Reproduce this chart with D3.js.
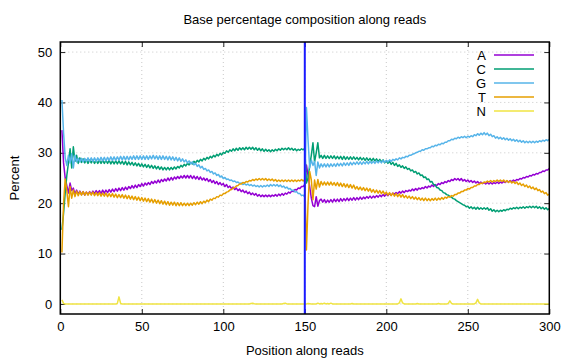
<!DOCTYPE html>
<html>
<head>
<meta charset="utf-8">
<script src="https://cdn.jsdelivr.net/npm/d3@7"></script>
<style>
  body { margin: 0; background: #fff; }
  svg { display: block; font-family: "Liberation Sans", Arial, sans-serif; }
</style>
</head>
<body>
<svg id="chart" width="576" height="360"></svg>
<script>
const bases = ['A', 'C', 'G', 'T', 'N'];
const colors = ['#9400d3', '#009e73', '#56b4e9', '#e69f00', '#f0e442'];
const xTicks = [0, 50, 100, 150, 200, 250, 300];
const yTicks = [0, 10, 20, 30, 40, 50];
const readBoundary = 150;

// percent per position 1..300 (read 1 = 1..150, read 2 = 151..300)
const pctA = [
  34.5, 28, 25, 23.5, 22, 24, 22.5, 23, 21.8, 22.6,
  21.8, 22.4, 21.7, 22.3, 21.6, 22.2, 21.7, 22.3, 21.8, 22.4,
  21.9, 22.5, 22.0, 22.5, 21.9, 22.6, 22.0, 22.6, 22.1, 22.7,
  22.2, 22.8, 22.3, 22.9, 22.4, 23.0, 22.5, 23.1, 22.6, 23.2,
  22.7, 23.3, 22.9, 23.5, 23.0, 23.6, 23.1, 23.7, 23.3, 23.9,
  23.4, 24.0, 23.6, 24.1, 23.7, 24.3, 23.9, 24.4, 24.0, 24.6,
  24.1, 24.7, 24.3, 24.8, 24.4, 25.0, 24.5, 25.1, 24.6, 25.2,
  24.8, 25.3, 24.9, 25.4, 25.0, 25.5, 25.0, 25.5, 25.0, 25.5,
  24.9, 25.4, 24.8, 25.3, 24.7, 25.2, 24.6, 25.0, 24.5, 24.9,
  24.3, 24.7, 24.1, 24.5, 23.9, 24.3, 23.7, 24.1, 23.6, 23.9,
  23.3, 23.7, 23.1, 23.4, 22.9, 23.2, 22.7, 23.0, 22.5, 22.8,
  22.3, 22.6, 22.1, 22.4, 21.9, 22.2, 21.7, 22.0, 21.6, 21.9,
  21.4, 21.7, 21.3, 21.6, 21.3, 21.6, 21.3, 21.6, 21.3, 21.6,
  21.4, 21.7, 21.4, 21.8, 21.5, 21.9, 21.6, 22.0, 21.8, 22.2,
  22.0, 22.4, 22.3, 22.7, 22.6, 23.0, 22.9, 23.3, 23.3, 23.7,
  27.6, 25.5, 23.3, 21.0, 19.5, 19.3, 21.3, 19.4, 20.5, 20.8,
  20.2, 20.7, 20.1, 20.6, 20.2, 20.7, 20.2, 20.8, 20.3, 20.8,
  20.3, 20.9, 20.4, 20.9, 20.5, 21.0, 20.5, 21.0, 20.6, 21.1,
  20.6, 21.1, 20.7, 21.2, 20.8, 21.2, 20.9, 21.3, 21.0, 21.4,
  21.0, 21.4, 21.1, 21.5, 21.2, 21.6, 21.3, 21.7, 21.4, 21.8,
  21.5, 21.9, 21.6, 22.0, 21.8, 22.1, 21.9, 22.3, 22.0, 22.4,
  22.1, 22.5, 22.3, 22.6, 22.4, 22.8, 22.5, 22.9, 22.6, 23.0,
  22.8, 23.1, 22.9, 23.3, 23.0, 23.4, 23.2, 23.6, 23.3, 23.7,
  23.5, 23.9, 23.7, 24.1, 23.9, 24.3, 24.1, 24.5, 24.3, 24.7,
  24.5, 24.9, 24.6, 24.9, 24.5, 24.9, 24.4, 24.7, 24.3, 24.6,
  24.2, 24.5, 24.1, 24.4, 24.0, 24.3, 23.9, 24.2, 23.9, 24.1,
  23.8, 24.1, 23.8, 24.1, 23.8, 24.1, 23.9, 24.2, 23.9, 24.2,
  24.0, 24.3, 24.1, 24.4, 24.2, 24.5, 24.3, 24.6, 24.4, 24.7,
  24.6, 24.9, 24.8, 25.1, 25.0, 25.3, 25.2, 25.5, 25.4, 25.7,
  25.6, 25.9, 25.8, 26.1, 26.1, 26.4, 26.3, 26.6, 26.6, 26.9
];

const pctC = [
  14.7, 18, 22, 25.5, 28, 30.8, 27, 31.2, 28.3, 29.5,
  27.9, 29.0, 28.1, 28.8, 28.0, 28.6, 27.9, 28.6, 28.0, 28.6,
  27.9, 28.5, 27.9, 28.5, 27.9, 28.5, 27.9, 28.5, 27.9, 28.5,
  27.8, 28.4, 27.8, 28.4, 27.8, 28.4, 27.8, 28.3, 27.7, 28.3,
  27.6, 28.2, 27.6, 28.1, 27.5, 28.0, 27.4, 27.9, 27.3, 27.8,
  27.2, 27.7, 27.1, 27.6, 27.0, 27.5, 26.9, 27.4, 26.8, 27.3,
  26.7, 27.2, 26.6, 27.1, 26.6, 27.1, 26.6, 27.1, 26.7, 27.2,
  26.8, 27.3, 27.0, 27.5, 27.2, 27.7, 27.4, 27.9, 27.6, 28.1,
  27.8, 28.3, 28.0, 28.5, 28.2, 28.7, 28.4, 28.9, 28.6, 29.1,
  28.8, 29.3, 29.0, 29.5, 29.2, 29.7, 29.4, 29.9, 29.6, 30.1,
  29.9, 30.4, 30.1, 30.6, 30.3, 30.8, 30.4, 30.9, 30.5, 31.0,
  30.6, 31.0, 30.6, 31.1, 30.7, 31.1, 30.7, 31.1, 30.6, 31.0,
  30.5, 30.9, 30.4, 30.8, 30.3, 30.7, 30.3, 30.6, 30.2, 30.6,
  30.3, 30.7, 30.4, 30.8, 30.5, 30.9, 30.6, 30.9, 30.6, 31.0,
  30.6, 30.9, 30.5, 30.8, 30.4, 30.7, 30.5, 30.8, 30.6, 30.9,
  24.0, 25.0, 27.5, 29.5, 32.0, 28.2, 30.0, 32.0, 29.0, 29.5,
  28.9, 29.5, 28.9, 29.4, 28.9, 29.4, 28.9, 29.4, 28.8, 29.3,
  28.8, 29.3, 28.7, 29.3, 28.7, 29.2, 28.7, 29.2, 28.7, 29.2,
  28.7, 29.1, 28.6, 29.1, 28.6, 29.0, 28.5, 29.0, 28.5, 28.9,
  28.4, 28.9, 28.4, 28.8, 28.3, 28.7, 28.2, 28.6, 28.0, 28.4,
  27.9, 28.3, 27.7, 28.1, 27.5, 27.9, 27.3, 27.6, 27.1, 27.4,
  26.9, 27.2, 26.7, 26.9, 26.4, 26.6, 26.1, 26.3, 25.8, 26.0,
  25.5, 25.6, 25.1, 25.2, 24.7, 24.8, 24.2, 24.3, 23.7, 23.6,
  23.1, 23.0, 22.6, 22.5, 22.1, 22.0, 21.7, 21.6, 21.3, 21.2,
  20.9, 20.8, 20.5, 20.3, 20.1, 19.9, 19.7, 19.6, 19.3, 19.4,
  19.0, 19.3, 18.9, 19.2, 18.8, 19.2, 18.8, 19.1, 18.8, 19.1,
  18.8, 19.1, 18.6, 18.9, 18.4, 18.7, 18.3, 18.6, 18.3, 18.6,
  18.4, 18.7, 18.5, 18.8, 18.7, 19.0, 18.8, 19.1, 18.9, 19.2,
  18.9, 19.2, 19.0, 19.3, 19.0, 19.3, 19.1, 19.4, 19.1, 19.4,
  19.1, 19.4, 19.0, 19.3, 18.9, 19.2, 18.8, 19.1, 18.7, 18.9
];

const pctG = [
  40.5, 34, 29, 27.5, 29.5, 28, 29.8, 27, 29.5, 28.2,
  28.9, 28.2, 28.9, 28.2, 28.9, 28.3, 29.0, 28.3, 29.0, 28.3,
  29.0, 28.3, 29.0, 28.4, 29.1, 28.4, 29.1, 28.4, 29.1, 28.5,
  29.2, 28.5, 29.2, 28.5, 29.2, 28.6, 29.3, 28.6, 29.3, 28.6,
  29.3, 28.6, 29.3, 28.7, 29.4, 28.7, 29.4, 28.7, 29.4, 28.7,
  29.4, 28.7, 29.4, 28.7, 29.4, 28.8, 29.5, 28.8, 29.4, 28.7,
  29.4, 28.7, 29.4, 28.7, 29.3, 28.6, 29.3, 28.6, 29.2, 28.5,
  29.1, 28.4, 29.0, 28.3, 28.8, 28.2, 28.6, 28.0, 28.4, 27.8,
  28.2, 27.6, 27.9, 27.3, 27.6, 27.0, 27.3, 26.7, 26.9, 26.4,
  26.6, 26.1, 26.3, 25.8, 26.0, 25.5, 25.7, 25.2, 25.4, 24.9,
  25.1, 24.7, 24.8, 24.5, 24.6, 24.3, 24.4, 24.1, 24.2, 23.9,
  24.0, 23.7, 23.9, 23.6, 23.8, 23.5, 23.7, 23.4, 23.6, 23.3,
  23.5, 23.2, 23.5, 23.2, 23.5, 23.3, 23.6, 23.3, 23.7, 23.4,
  23.7, 23.4, 23.7, 23.3, 23.6, 23.2, 23.4, 23.0, 23.2, 22.8,
  22.9, 22.5, 22.6, 22.2, 22.3, 21.9, 21.9, 21.5, 21.6, 21.2,
  39.0, 32.5, 27.0, 28.6, 27.5, 28.3, 25.5, 28.2, 27.0, 27.8,
  27.2, 27.8, 27.2, 27.8, 27.2, 27.8, 27.3, 27.8, 27.3, 27.9,
  27.4, 27.9, 27.4, 28.0, 27.5, 28.0, 27.5, 28.1, 27.6, 28.1,
  27.7, 28.2, 27.7, 28.2, 27.7, 28.2, 27.8, 28.3, 27.8, 28.3,
  27.9, 28.3, 27.9, 28.4, 28.0, 28.4, 28.0, 28.5, 28.1, 28.5,
  28.2, 28.6, 28.3, 28.7, 28.5, 28.8, 28.6, 29.0, 28.8, 29.1,
  29.0, 29.3, 29.2, 29.5, 29.5, 29.7, 29.8, 30.0, 30.1, 30.3,
  30.3, 30.6, 30.5, 30.8, 30.8, 31.0, 31.0, 31.3, 31.2, 31.5,
  31.4, 31.7, 31.6, 31.9, 31.8, 32.1, 32.1, 32.4, 32.4, 32.7,
  32.6, 32.9, 32.8, 33.1, 32.9, 33.2, 33.0, 33.3, 33.0, 33.3,
  33.1, 33.4, 33.2, 33.6, 33.4, 33.8, 33.5, 33.9, 33.6, 34.0,
  33.6, 33.9, 33.4, 33.7, 33.2, 33.4, 32.9, 33.2, 32.8, 33.1,
  32.7, 33.0, 32.6, 32.9, 32.5, 32.8, 32.4, 32.7, 32.3, 32.6,
  32.2, 32.5, 32.1, 32.4, 32.0, 32.3, 32.0, 32.3, 32.0, 32.3,
  32.0, 32.3, 32.1, 32.4, 32.2, 32.5, 32.3, 32.6, 32.4, 32.7
];

const pctT = [
  10.2, 20, 24.8, 22.5, 19.3, 23.3, 21, 22.6, 21.3, 22.4,
  21.5, 22.3, 21.6, 22.3, 21.6, 22.2, 21.6, 22.2, 21.6, 22.2,
  21.5, 22.1, 21.5, 22.1, 21.4, 22.0, 21.4, 22.0, 21.3, 21.9,
  21.3, 21.9, 21.2, 21.8, 21.1, 21.7, 21.1, 21.7, 21.0, 21.6,
  20.9, 21.5, 20.8, 21.4, 20.7, 21.3, 20.6, 21.2, 20.5, 21.1,
  20.4, 21.0, 20.3, 20.9, 20.2, 20.8, 20.1, 20.7, 20.0, 20.6,
  19.9, 20.5, 19.8, 20.4, 19.7, 20.3, 19.6, 20.2, 19.6, 20.2,
  19.5, 20.1, 19.5, 20.1, 19.5, 20.0, 19.5, 20.0, 19.5, 20.0,
  19.6, 20.1, 19.7, 20.2, 19.8, 20.3, 19.9, 20.4, 20.1, 20.6,
  20.3, 20.8, 20.6, 21.0, 20.9, 21.3, 21.2, 21.6, 21.5, 21.9,
  21.9, 22.2, 22.3, 22.6, 22.7, 23.0, 23.1, 23.4, 23.5, 23.8,
  23.8, 24.1, 24.0, 24.3, 24.2, 24.5, 24.4, 24.7, 24.5, 24.8,
  24.6, 24.9, 24.6, 24.9, 24.6, 24.9, 24.5, 24.8, 24.5, 24.8,
  24.4, 24.7, 24.3, 24.6, 24.3, 24.6, 24.3, 24.6, 24.3, 24.6,
  24.3, 24.6, 24.3, 24.6, 24.3, 24.6, 24.4, 24.7, 24.4, 24.7,
  10.7, 20.0, 26.3, 24.6, 20.7, 24.6, 22.8, 24.7, 23.2, 24.3,
  23.6, 24.2, 23.6, 24.2, 23.6, 24.2, 23.6, 24.1, 23.5, 24.1,
  23.4, 24.0, 23.3, 23.9, 23.2, 23.8, 23.1, 23.7, 23.0, 23.6,
  22.8, 23.3, 22.7, 23.2, 22.6, 23.1, 22.5, 23.0, 22.4, 22.9,
  22.2, 22.7, 22.1, 22.6, 22.0, 22.5, 21.9, 22.4, 21.8, 22.2,
  21.6, 22.1, 21.5, 22.0, 21.4, 21.9, 21.3, 21.8, 21.2, 21.7,
  21.1, 21.5, 21.0, 21.4, 20.9, 21.3, 20.8, 21.2, 20.7, 21.1,
  20.6, 21.0, 20.5, 21.0, 20.5, 20.9, 20.5, 20.9, 20.6, 21.0,
  20.6, 21.0, 20.7, 21.1, 20.8, 21.2, 21.0, 21.3, 21.2, 21.5,
  21.4, 21.7, 21.7, 22.0, 22.0, 22.3, 22.3, 22.6, 22.6, 22.9,
  22.8, 23.1, 23.1, 23.4, 23.4, 23.7, 23.7, 24.0, 23.9, 24.2,
  24.1, 24.4, 24.2, 24.5, 24.2, 24.5, 24.3, 24.6, 24.3, 24.6,
  24.3, 24.6, 24.2, 24.5, 24.1, 24.4, 24.0, 24.3, 23.9, 24.2,
  23.7, 24.0, 23.5, 23.8, 23.3, 23.6, 23.1, 23.4, 22.9, 23.2,
  22.7, 23.0, 22.5, 22.7, 22.2, 22.4, 21.9, 22.1, 21.6, 21.8
];

const pctN = [
  0.8, 0.1, 0, 0, 0, 0, 0, 0, 0, 0,
  0, 0, 0, 0, 0, 0, 0, 0, 0, 0,
  0, 0, 0, 0, 0, 0, 0, 0, 0, 0,
  0, 0, 0, 0, 0.1, 1.4, 0.1, 0, 0, 0,
  0, 0, 0, 0, 0, 0, 0, 0, 0, 0,
  0, 0, 0, 0, 0, 0, 0, 0, 0, 0,
  0, 0, 0, 0, 0, 0, 0, 0, 0, 0,
  0, 0, 0, 0, 0, 0, 0, 0, 0, 0,
  0, 0, 0, 0, 0, 0, 0, 0, 0, 0,
  0, 0, 0, 0, 0, 0, 0, 0, 0, 0,
  0, 0, 0, 0, 0, 0, 0, 0, 0, 0,
  0, 0, 0, 0, 0, 0, 0.1, 0.15, 0.05, 0,
  0, 0, 0, 0, 0, 0, 0, 0, 0, 0,
  0, 0, 0, 0, 0, 0, 0.1, 0.15, 0, 0,
  0, 0, 0, 0, 0, 0, 0, 0, 0, 0,
  0, 0.1, 0.05, 0, 0, 0, 0, 0.15, 0, 0.1,
  0, 0.15, 0, 0.1, 0, 0.15, 0, 0, 0, 0,
  0, 0, 0, 0, 0, 0, 0, 0, 0.1, 0,
  0, 0, 0, 0, 0, 0, 0, 0, 0, 0,
  0, 0, 0, 0, 0, 0, 0, 0, 0, 0,
  0, 0, 0, 0, 0, 0, 0, 0.2, 1.0, 0.2,
  0, 0, 0, 0, 0, 0, 0, 0, 0.1, 0,
  0, 0, 0, 0, 0, 0, 0, 0, 0, 0,
  0, 0.1, 0, 0, 0, 0, 0, 0.1, 0.6, 0.1,
  0, 0, 0, 0, 0, 0, 0, 0, 0, 0,
  0, 0, 0, 0, 0.2, 0.9, 0.2, 0, 0, 0,
  0, 0, 0, 0, 0, 0, 0, 0, 0, 0,
  0, 0, 0, 0, 0, 0, 0, 0, 0, 0,
  0, 0, 0, 0, 0, 0, 0, 0, 0, 0,
  0, 0, 0, 0, 0, 0, 0, 0, 0, 0
];

const series = [pctA, pctC, pctG, pctT, pctN];
const positions = d3.range(1, 301);

const svg = d3.select('#chart');
const plotLeft = 60.3, plotRight = 549.3, plotTop = 42, plotBottom = 314;
const fontSize = '13px';

const x = d3.scaleLinear().domain([0, 300]).range([plotLeft, plotRight]);
const y = d3.scaleLinear().domain([-2, 52]).range([plotBottom, plotTop]);

svg.append('rect').attr('width', 576).attr('height', 360).attr('fill', '#fff');

// dotted grid
const grid = svg.append('g')
  .attr('stroke', '#c8c8c8')
  .attr('stroke-width', 1)
  .attr('stroke-dasharray', '1,3');
grid.selectAll('.gx').data(xTicks.slice(1, -1)).enter().append('line')
  .attr('x1', d => x(d)).attr('x2', d => x(d))
  .attr('y1', plotTop).attr('y2', plotBottom);
grid.selectAll('.gy').data(yTicks).enter().append('line')
  .attr('x1', plotLeft).attr('x2', plotRight)
  .attr('y1', d => y(d)).attr('y2', d => y(d));

// axes, ticks inward and mirrored
function styleAxis(g) {
  g.select('.domain').remove();
  g.selectAll('.tick line').attr('stroke', '#222').attr('stroke-width', 1);
  g.selectAll('.tick text').attr('fill', '#000').style('font-size', fontSize)
    .style('font-family', '"Liberation Sans", Arial, sans-serif');
}
svg.append('g').attr('transform', `translate(0,${plotBottom})`)
  .call(d3.axisBottom(x).tickValues(xTicks).tickSizeInner(-5).tickSizeOuter(0).tickPadding(8))
  .call(styleAxis);
svg.append('g').attr('transform', `translate(0,${plotTop})`)
  .call(d3.axisTop(x).tickValues(xTicks).tickSizeInner(-5).tickSizeOuter(0).tickFormat(''))
  .call(styleAxis);
svg.append('g').attr('transform', `translate(${plotLeft},0)`)
  .call(d3.axisLeft(y).tickValues(yTicks).tickSizeInner(-5).tickSizeOuter(0).tickPadding(8))
  .call(styleAxis);
svg.append('g').attr('transform', `translate(${plotRight},0)`)
  .call(d3.axisRight(y).tickValues(yTicks).tickSizeInner(-5).tickSizeOuter(0).tickFormat(''))
  .call(styleAxis);

// data lines
const line = d3.line()
  .x((d, i) => x(positions[i]))
  .y(d => y(d));

svg.append('g').selectAll('path')
  .data(series)
  .enter()
  .append('path')
  .attr('d', d => line(d))
  .attr('fill', 'none')
  .attr('stroke', (d, i) => colors[i])
  .attr('stroke-width', 1.5)
  .attr('stroke-linejoin', 'round');

// read boundary
svg.append('line')
  .attr('x1', x(readBoundary)).attr('x2', x(readBoundary))
  .attr('y1', plotTop).attr('y2', plotBottom)
  .attr('stroke', '#1a1aff')
  .attr('stroke-width', 2);

// border
svg.append('rect')
  .attr('x', plotLeft).attr('y', plotTop)
  .attr('width', plotRight - plotLeft).attr('height', plotBottom - plotTop)
  .attr('fill', 'none')
  .attr('stroke', '#000')
  .attr('stroke-width', 1.5);

// legend
const legend = svg.append('g');
bases.forEach((b, i) => {
  const ly = 55 + i * 14;
  legend.append('text')
    .attr('x', 486).attr('y', ly).attr('dy', '0.35em')
    .attr('text-anchor', 'end')
    .style('font-size', fontSize)
    .text(b);
  legend.append('line')
    .attr('x1', 494).attr('x2', 534)
    .attr('y1', ly).attr('y2', ly)
    .attr('stroke', colors[i])
    .attr('stroke-width', 1.5);
});

// titles
svg.append('text')
  .attr('x', (plotLeft + plotRight) / 2).attr('y', 24)
  .attr('text-anchor', 'middle')
  .style('font-size', fontSize)
  .text('Base percentage composition along reads');

svg.append('text')
  .attr('x', (plotLeft + plotRight) / 2).attr('y', 355)
  .attr('text-anchor', 'middle')
  .style('font-size', fontSize)
  .text('Position along reads');

svg.append('text')
  .attr('transform', `translate(19,${(plotTop + plotBottom) / 2}) rotate(-90)`)
  .attr('text-anchor', 'middle')
  .style('font-size', fontSize)
  .text('Percent');
</script>
</body>
</html>
